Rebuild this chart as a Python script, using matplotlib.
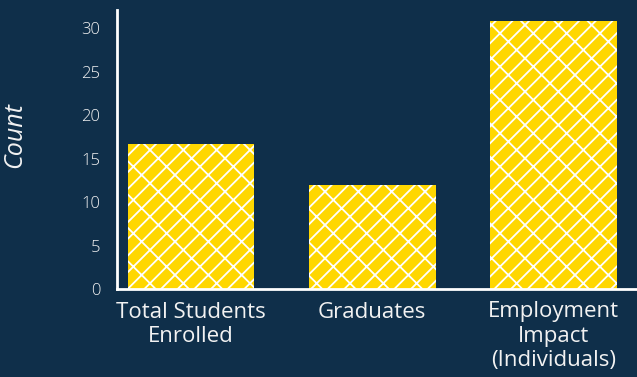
import matplotlib
matplotlib.use("Agg")
import matplotlib.pyplot as plt

# Program figures
categories = ["Total Students\nEnrolled", "Graduates", "Employment\nImpact\n(Individuals)"]
counts = [16.7, 12.0, 30.8]
yticks = [0, 5, 10, 15, 20, 25, 30]

BG = "#0f2f4a"
BAR = "#ffd700"
TEXT = "#f2f2f2"

plt.rcParams["font.family"] = ["Open Sans", "DejaVu Sans"]
plt.rcParams["hatch.linewidth"] = 1.3

fig = plt.figure(figsize=(6.37, 3.77), dpi=100, facecolor=BG)
ax = fig.add_axes([117 / 637, 1 - 289 / 377, 520 / 637, 279 / 377])
ax.set_facecolor(BG)

x = range(len(categories))
ax.bar(x, counts, width=0.7, color=BAR, edgecolor="white", linewidth=0, hatch="//\\")

ax.set_xlim(-0.408, 2.46)
ax.set_ylim(0, 32.1)
ax.set_xticks(list(x))
ax.set_xticklabels(categories, fontsize=16, color=TEXT, linespacing=1.2)
ax.set_yticks(yticks)
ax.set_yticklabels([str(t) for t in yticks], fontsize=12, color=TEXT,
                   fontweight="light")
ax.tick_params(length=0)
ax.tick_params(axis="y", pad=12)
ax.tick_params(axis="x", pad=9)

for side in ("top", "right"):
    ax.spines[side].set_visible(False)
for side in ("left", "bottom"):
    ax.spines[side].set_color("white")
    ax.spines[side].set_linewidth(2)

ax.set_ylabel("Count", fontsize=18, color=TEXT, style="italic")
ax.yaxis.set_label_coords(-0.172, 0.552)

fig.savefig("out.png", dpi=100, facecolor=BG)
